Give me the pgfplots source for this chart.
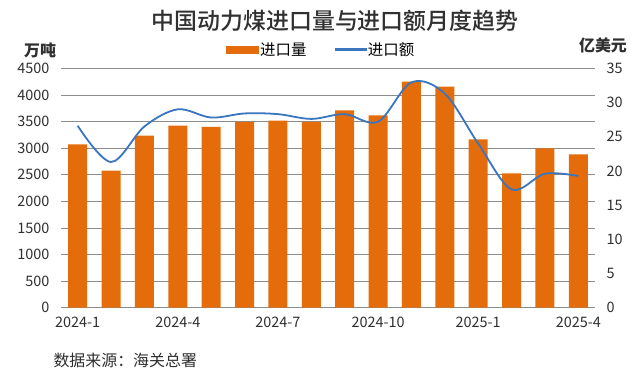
\documentclass[border=0pt]{standalone}
\usepackage{fontspec}
\setmainfont{Noto Sans CJK SC}
\newfontfamily\titlefont{Noto Sans CJK SC Medium}
\usepackage{pgfplots}
\pgfplotsset{compat=1.18}
\definecolor{barorange}{HTML}{E46C0A}
\definecolor{lineblue}{HTML}{3A76BE}
\definecolor{gridgray}{HTML}{8C8C8C}
\definecolor{txt}{HTML}{303030}
\begin{document}
\begin{tikzpicture}[x=1bp,y=1bp]
\path[use as bounding box, fill=white] (0,0) rectangle (640,376);
\pgfplotsset{
  common/.style={
    at={(61bp,68.3bp)}, anchor=south west,
    scale only axis, width=534bp, height=239.4bp,
    xmin=-0.5, xmax=15.5,
    axis line style={draw=none},
    major tick length=0pt,
    /pgf/number format/assume math mode=true,
    /pgf/number format/1000 sep={},
    ticklabel style={font=\fontsize{14.5}{14.5}\selectfont, text=txt},
  }
}
\begin{axis}[
  common,
  ymin=0, ymax=4500, ytick={0,500,...,4500},
  ymajorgrids, grid style={gridgray, line width=0.8bp},
  xtick={0,3,6,9,12,15},
  xticklabels={2024-1,2024-4,2024-7,2024-10,2025-1,2025-4},
  xticklabel style={yshift=-6bp},
  yticklabel style={xshift=-8bp},
  legend style={at={(0.487,1.078)}, anchor=center, draw=none, fill=none,
    legend columns=2, font=\fontsize{15.5}{15.5}\selectfont,
    /tikz/every even column/.append style={column sep=26bp},
    legend cell align=left},
]
\addplot[ybar, bar width=19bp, fill=barorange, draw=none, forget plot] coordinates {
(0,3071) (1,2575) (2,3233) (3,3421) (4,3397) (5,3491) (6,3515) (7,3491)
(8,3711) (9,3617) (10,4248) (11,4154) (12,3165) (13,2526) (14,2996) (15,2883)
};
\addlegendimage{legend image code/.code={\fill[barorange] (0bp,-3.5bp) rectangle (32bp,3.5bp);}}
\addlegendentry{进口量}
\addlegendimage{legend image code/.code={\fill[lineblue] (0bp,-1bp) rectangle (31bp,1bp);}}
\addlegendentry{进口额}
\end{axis}
\begin{axis}[
  common,
  ymin=0, ymax=35, ytick={0,5,...,35},
  axis y line*=right, axis x line=none,
  yticklabel style={xshift=8bp},
]
\addplot[lineblue, line width=1.8bp, smooth, tension=0.55] coordinates {
(0,26.6) (1,21.3) (2,26.5) (3,29.0) (4,27.8) (5,28.4) (6,28.3) (7,27.6)
(8,28.3) (9,27.2) (10,32.95) (11,31.3) (12,24.0) (13,17.3) (14,19.6) (15,19.25)
};
\end{axis}
\node[font=\titlefont\fontsize{23}{23}\selectfont, text=txt] at (335,355) {中国动力煤进口量与进口额月度趋势};
\node[font=\bfseries\fontsize{16}{16}\selectfont, text=txt] at (40,326) {万吨};
\node[font=\bfseries\fontsize{16}{16}\selectfont, text=txt] at (603,331) {亿美元};
\node[font=\fontsize{16}{16}\selectfont, text=txt, anchor=west] at (50,16) {数据来源：海关总署};
\end{tikzpicture}
\end{document}
